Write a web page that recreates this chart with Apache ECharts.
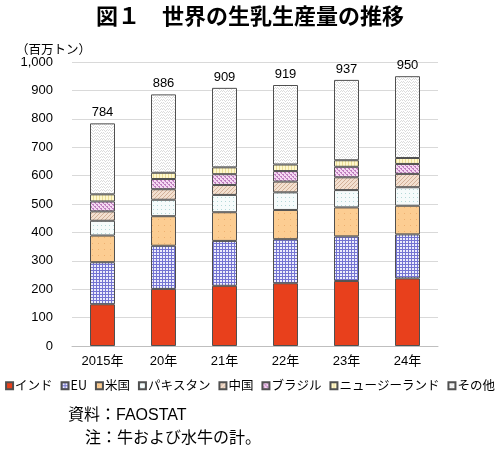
<!DOCTYPE html>
<html>
<head>
<meta charset="utf-8">
<script src="https://cdn.jsdelivr.net/npm/echarts@6/dist/echarts.min.js"></script>
<style>
  html, body { margin: 0; padding: 0; background: #fff; }
  #chart { width: 500px; height: 451px; }
</style>
</head>
<body>
<div id="chart"></div>
<script>
var years = ['2015年', '20年', '21年', '22年', '23年', '24年'];
var india    = [147, 201, 212, 221, 229, 238];
var eu       = [148, 152, 158, 155, 157, 155];
var usa      = [94, 104, 101, 103, 102, 101];
var pakistan = [52, 58, 61, 62, 61, 65];
var china    = [33, 37, 35, 38, 45, 47];
var brazil   = [35, 36, 38, 37, 37, 35];
var nz       = [25, 22, 24, 23, 23, 21];
var others   = [250, 276, 280, 280, 283, 288];
var yTicks   = [0, 100, 200, 300, 400, 500, 600, 700, 800, 900, 1000];

var FONT = '"Noto Sans CJK JP", "Noto Sans", sans-serif';
var NUMFONT = '"Liberation Sans", "Noto Sans CJK JP", sans-serif';

// small canvas tiles used as fill textures
function tile(w, h, bg, draw) {
    var c = document.createElement('canvas');
    c.width = w; c.height = h;
    var ctx = c.getContext('2d');
    ctx.fillStyle = bg;
    ctx.fillRect(0, 0, w, h);
    draw(ctx);
    return { image: c, repeat: 'repeat' };
}

var fillIndia = '#e8401c';
var fillEu = tile(3, 3, '#ececfb', function (ctx) {
    ctx.fillStyle = '#7474d2';
    ctx.fillRect(0, 0, 3, 1);
    ctx.fillRect(0, 0, 1, 3);
});
var fillUsa = tile(6, 6, '#fccd92', function (ctx) {
    ctx.fillStyle = '#eeb070';
    ctx.fillRect(2, 3, 1, 1);
});
var fillPak = tile(4, 4, '#f6fbfb', function (ctx) {
    ctx.fillStyle = '#b4d8d8';
    ctx.fillRect(1, 1, 1, 1);
});
var fillChina = tile(4, 4, '#f3e0d0', function (ctx) {
    ctx.fillStyle = '#d2b098';
    ctx.fillRect(0, 0, 1, 1);
    ctx.fillRect(2, 2, 1, 1);
    ctx.fillRect(1, 3, 1, 1);
    ctx.fillRect(3, 1, 1, 1);
});
var fillBrazil = tile(4, 4, '#f5d8f2', function (ctx) {
    ctx.fillStyle = '#bf7fbf';
    ctx.fillRect(0, 0, 2, 1);
    ctx.fillRect(2, 2, 2, 1);
    ctx.fillRect(1, 1, 1, 1);
    ctx.fillRect(3, 3, 1, 1);
});
var fillNz = tile(3, 3, '#fff8cc', function (ctx) {
    ctx.fillStyle = '#ebdd98';
    ctx.fillRect(0, 0, 1, 3);
});
var fillOthers = tile(6, 3, '#ffffff', function (ctx) {
    ctx.fillStyle = '#dcdcdc';
    ctx.fillRect(0, 1, 1, 1);
    ctx.fillRect(1, 0, 1, 1);
    ctx.fillRect(2, 1, 1, 1);
    ctx.fillRect(3, 2, 1, 1);
    ctx.fillRect(4, 1, 1, 1);
    ctx.fillRect(5, 0, 1, 1);
});

var parts = [
    { name: 'インド', data: india, color: fillIndia },
    { name: 'EU', data: eu, color: fillEu },
    { name: '米国', data: usa, color: fillUsa },
    { name: 'パキスタン', data: pakistan, color: fillPak },
    { name: '中国', data: china, color: fillChina },
    { name: 'ブラジル', data: brazil, color: fillBrazil },
    { name: 'ニュージーランド', data: nz, color: fillNz },
    { name: 'その他', data: others, color: fillOthers }
];

function totalAt(i) {
    var s = 0;
    parts.forEach(function (p) { s += p.data[i]; });
    return s;
}

var series = parts.map(function (p, k) {
    var s = {
        name: p.name,
        type: 'bar',
        stack: 'milk',
        barWidth: 25,
        data: p.data,
        itemStyle: { color: p.color, borderColor: '#505050', borderWidth: 1 },
        emphasis: { disabled: true }
    };
    if (k === parts.length - 1) {
        s.label = {
            show: true,
            position: 'top',
            distance: 4,
            color: '#000',
            fontSize: 13,
            fontFamily: NUMFONT,
            formatter: function (d) { return totalAt(d.dataIndex); }
        };
    }
    return s;
});

var chart = echarts.init(document.getElementById('chart'));
chart.setOption({
    animation: false,
    textStyle: { fontFamily: FONT },
    title: {
        text: '図１　世界の生乳生産量の推移',
        left: 'center',
        top: 0,
        textStyle: { fontSize: 22, fontWeight: 'bold', color: '#000', fontFamily: FONT }
    },
    grid: { left: 72, right: 62, top: 62, bottom: 105 },
    legend: {
        bottom: 54,
        left: 'center',
        itemWidth: 7,
        itemHeight: 7,
        itemGap: 8,
        icon: 'rect',
        textStyle: { fontSize: 12.5, color: '#000', fontFamily: FONT, padding: [0, 0, 0, -3] },
        data: parts.map(function (p) { return p.name; })
    },
    xAxis: {
        type: 'category',
        data: years,
        axisLine: { lineStyle: { color: '#bfbfbf' } },
        axisTick: { show: false },
        axisLabel: { color: '#000', fontSize: 13, margin: 9, fontFamily: NUMFONT }
    },
    yAxis: {
        type: 'value',
        min: yTicks[0],
        max: yTicks[yTicks.length - 1],
        interval: 100,
        name: '（百万トン）',
        nameGap: 4,
        nameTextStyle: { color: '#000', fontSize: 12.5, align: 'right', padding: [0, -19, 0, 0] },
        axisLine: { show: false },
        axisTick: { show: false },
        splitLine: { lineStyle: { color: '#d9d9d9' } },
        axisLabel: {
            color: '#000',
            fontSize: 13,
            margin: 19,
            fontFamily: NUMFONT,
            formatter: function (v) { return v.toLocaleString('en-US'); }
        }
    },
    graphic: [
        { type: 'text', left: 68, top: 408, style: { text: '資料：FAOSTAT', fontSize: 16, fill: '#000', fontFamily: NUMFONT } },
        { type: 'text', left: 85, top: 429, style: { text: '注：牛および水牛の計。', fontSize: 16, fill: '#000', fontFamily: FONT } }
    ],
    series: series
});

window.onresize = function () {
    chart.resize();
};
</script>
</body>
</html>
